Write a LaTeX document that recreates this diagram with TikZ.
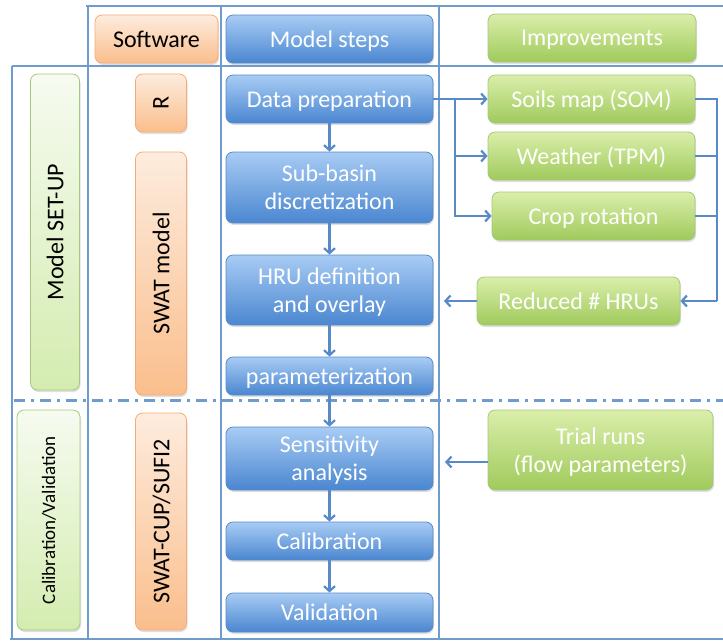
\documentclass[tikz,border=0pt]{standalone}
\usepackage{fontspec}
\setmainfont{Carlito}
\usepackage{tikz}
\usetikzlibrary{arrows.meta,shadows}
\newcommand\bigtxt{\fontsize{24}{28}\selectfont}
\newcommand\smalltxt{\fontsize{19}{22}\selectfont}
\definecolor{grid_blue}{RGB}{112,155,205}
\definecolor{edge_blue}{RGB}{88,138,200}
\definecolor{step_top}{RGB}{168,204,244}
\definecolor{step_bot}{RGB}{74,134,208}
\definecolor{imp_top}{RGB}{218,238,170}
\definecolor{imp_bot}{RGB}{160,202,92}
\definecolor{edge_green}{RGB}{165,200,125}
\definecolor{soft_light}{RGB}{253,236,222}
\definecolor{soft_dark}{RGB}{250,190,140}
\definecolor{edge_orange}{RGB}{245,172,118}
\definecolor{phase_light}{RGB}{246,251,240}
\definecolor{phase_dark}{RGB}{212,236,176}

\begin{document}
\begin{tikzpicture}[x=1pt,y=-1pt,>={Straight Barb[length=5pt,width=11pt]}]
    \tikzstyle{box}=[rectangle, rounded corners=7pt, inner sep=0pt, align=center, font=\bigtxt, line width=0.8pt,
      text depth=0pt, drop shadow={opacity=0.25,shadow xshift=1pt,shadow yshift=-2pt}]
    \tikzstyle{stepbox}=[style=box, minimum width=207pt, text=white, top color=step_top, bottom color=step_bot, draw=edge_blue]
    \tikzstyle{impbox}=[style=box, text=white, top color=imp_top, bottom color=imp_bot, draw=edge_green]
    \tikzstyle{softbox}=[style=box, text=black, top color=soft_light, bottom color=soft_dark, draw=edge_orange]
    \tikzstyle{phasebox}=[style=box, text=black, top color=phase_light, bottom color=phase_dark, draw=edge_green]
    \tikzstyle{tableline}=[draw=grid_blue, line width=2.2pt]
    \tikzstyle{flow}=[->, draw=edge_blue, line width=2.2pt]

    \useasboundingbox (0,0) rectangle (723,641);

    % table lines
    \draw[tableline] (86,6) -- (723,6);
    \draw[tableline] (12,66) -- (723,66);
    \draw[tableline] (10,639) -- (723,639);
    \draw[tableline] (12,66) -- (12,639);
    \draw[tableline] (88,6) -- (88,639);
    \draw[tableline] (221,6) -- (221,639);
    \draw[tableline] (439,6) -- (439,639);
    \draw[tableline, line width=3pt, dash pattern=on 11pt off 6pt on 3pt off 6pt] (14,400) -- (723,400);

    % header
    \node[softbox, minimum width=123pt, minimum height=48pt] (soft) at (156.5,39) {Software};
    \node[stepbox, minimum height=48pt] (steps) at (329.5,39) {Model steps};
    \node[impbox, minimum width=208pt, minimum height=48pt] (impr) at (592,38) {Improvements};

    % phases and software
    \node[phasebox, rotate=90, minimum width=316pt, minimum height=49pt] (setup) at (55,232) {Model SET-UP};
    \node[phasebox, rotate=90, minimum width=220pt, minimum height=63pt, font=\smalltxt] (calval) at (48.5,520) {Calibration/Validation};
    \node[softbox, rotate=90, minimum width=58pt, minimum height=51pt] (rsoft) at (161,103) {R};
    \node[softbox, rotate=90, minimum width=243pt, minimum height=51pt] (swat) at (161,273.5) {SWAT model};
    \node[softbox, rotate=90, minimum width=217pt, minimum height=51pt] (cup) at (161,521.5) {SWAT-CUP/SUFI2};

    % model steps
    \node[stepbox, minimum height=48pt] (prep)   at (329.5,99)    {Data preparation};
    \node[stepbox, minimum height=71pt] (subb)   at (329.5,187.5) {Sub-basin\\discretization};
    \node[stepbox, minimum height=70pt] (hru)    at (329.5,290)   {HRU definition\\and overlay};
    \node[stepbox, minimum height=38pt] (param)  at (329.5,376)   {parameterization};
    \node[stepbox, minimum height=63pt] (sens)   at (329.5,458.5) {Sensitivity\\analysis};
    \node[stepbox, minimum height=38pt] (calib)  at (329.5,541)   {Calibration};
    \node[stepbox, minimum height=39pt] (valid)  at (329.5,612.5) {Validation};

    % improvements
    \node[impbox, minimum width=207pt, minimum height=48pt] (soils)   at (591.5,99)  {Soils map (SOM)};
    \node[impbox, minimum width=207pt, minimum height=48pt] (weather) at (591.5,156) {Weather (TPM)};
    \node[impbox, minimum width=203pt, minimum height=48pt] (crop)    at (593.5,216) {Crop rotation};
    \node[impbox, minimum width=203pt, minimum height=48pt] (reduced) at (578.5,301) {Reduced \# HRUs};
    \node[impbox, minimum width=225pt, minimum height=80pt] (trial)   at (600.5,450) {Trial runs\\(flow parameters)};

    \coordinate (split)  at (455,99);
    \coordinate (merge)  at (717,301);
    \coordinate (hruin)  at (444,301);
    \coordinate (sensin) at (445,462);

    \path[flow]
     (prep) edge (subb)
     (subb) edge (hru)
     (hru) edge (param)
     (param) edge (sens)
     (sens) edge (calib)
     (calib) edge (valid);

    \draw[flow] (prep.east) -- (soils.west);
    \draw[flow] (split) |- (weather.west);
    \draw[flow] (split) |- (crop.west);
    \draw[flow,-] (soils.east) -| (merge);
    \draw[flow,-] (weather.east) -- (weather.east -| merge);
    \draw[flow,-] (crop.east) -- (crop.east -| merge);
    \draw[flow] (merge) -- (reduced.east);
    \draw[flow] (reduced.west) -- (hruin);
    \draw[flow] (trial.west |- sensin) -- (sensin);
  \end{tikzpicture}
\end{document}
